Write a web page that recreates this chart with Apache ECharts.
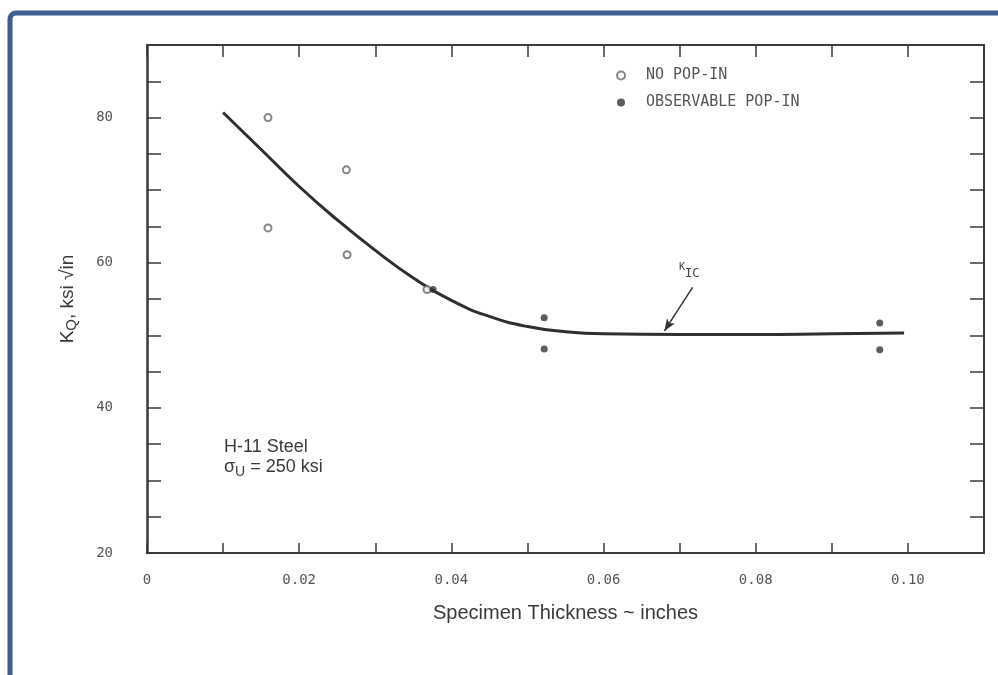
<!DOCTYPE html>
<html>
<head>
<meta charset="utf-8">
<script src="https://cdn.jsdelivr.net/npm/echarts@6/dist/echarts.min.js"></script>
<style>html,body{margin:0;padding:0;background:#fff;}#c{width:998px;height:675px;}</style>
</head>
<body>
<div id="c"></div>
<script>
// Data
const noPopIn = [[0.0159, 80.0], [0.0159, 64.8], [0.0262, 72.8], [0.0263, 61.1], [0.0368, 56.3]];
const popIn = [[0.0376, 56.3], [0.0522, 52.4], [0.0522, 48.1], [0.0963, 51.7], [0.0963, 48.0]];
const kicCurve = [[0.010, 80.7], [0.015, 75.6], [0.020, 70.5], [0.025, 65.9], [0.030, 61.7], [0.035, 57.9], [0.040, 54.8], [0.045, 52.6], [0.050, 51.2], [0.055, 50.5], [0.060, 50.2], [0.070, 50.1], [0.080, 50.1], [0.090, 50.2], [0.0995, 50.3]];
const kicArrow = [[0.0717, 56.6], [0.0680, 50.6]];
const seriesNames = ['NO POP-IN', 'OBSERVABLE POP-IN'];

const chart = echarts.init(document.getElementById('c'));
const axisCol = '#3a3a3a';
const labelCol = '#555';
const mono = '"DejaVu Sans Mono", "Liberation Mono", monospace';
const sans = '"Liberation Sans", Arial, sans-serif';

chart.setOption({
  backgroundColor: '#fff',
  animation: false,
  graphic: [
    { type: 'rect', shape: { x: 10, y: 13, width: 1010, height: 700, r: 6 },
      style: { fill: 'none', stroke: '#3b5f8e', lineWidth: 5 }, z: 10 },
    { type: 'text', left: 224, top: 438,
      style: { text: 'H-11 Steel', font: '18px "Liberation Sans", Arial, sans-serif', fill: '#3a3a3a' } },
    { type: 'text', left: 224, top: 458,
      style: { text: '{a|σ}{s|U}{a| = 250 ksi}', fill: '#3a3a3a',
        rich: { a: { fontSize: 18, fontFamily: sans, fill: '#3a3a3a' },
                s: { fontSize: 14, fontFamily: sans, fill: '#3a3a3a', padding: [10, 0, 0, 0] } } } },
    { type: 'text', left: 679, top: 262,
      style: { text: '{a|K}{s|IC}', fill: '#444',
        rich: { a: { fontSize: 10, fontFamily: mono, fill: '#444' },
                s: { fontSize: 12, fontFamily: mono, fill: '#444', padding: [14, 0, 0, 0] } } } }
  ],
  grid: { left: 147, right: 14, top: 45, bottom: 122 },
  legend: {
    orient: 'vertical', left: 611, top: 63, itemGap: 12,
    itemWidth: 12, itemHeight: 8,
    data: seriesNames,
    textStyle: { fontFamily: mono, fontSize: 15, color: '#555', padding: [0, 0, 0, 14] }
  },
  xAxis: [
    { type: 'value', min: 0, max: 0.11, interval: 0.01, position: 'bottom',
      axisLine: { show: true, onZero: false, lineStyle: { color: axisCol, width: 2 } },
      axisTick: { show: true, inside: true, length: 10, lineStyle: { color: axisCol, width: 1.5 } },
      splitLine: { show: false },
      axisLabel: { margin: 20, fontFamily: mono, fontSize: 14, color: labelCol, showMaxLabel: false,
        formatter: v => { const n = Math.round(v * 100); if (n === 0) return '0'; return (n % 2 === 0 && n <= 10) ? (n / 100).toFixed(2) : ''; } },
      name: 'Specimen Thickness ~ inches', nameLocation: 'middle', nameGap: 50,
      nameTextStyle: { fontFamily: sans, fontSize: 20, color: '#3a3a3a' } },
    { type: 'value', min: 0, max: 0.11, interval: 0.01, position: 'top',
      axisLine: { show: true, onZero: false, lineStyle: { color: axisCol, width: 2 } },
      axisTick: { show: true, inside: true, length: 12, lineStyle: { color: axisCol, width: 1.5 } },
      splitLine: { show: false }, axisLabel: { show: false } }
  ],
  yAxis: [
    { type: 'value', min: 20, max: 90, interval: 5, position: 'left',
      axisLine: { show: true, onZero: false, lineStyle: { color: axisCol, width: 2.5 } },
      axisTick: { show: true, inside: true, length: 14, lineStyle: { color: axisCol, width: 1.5 } },
      splitLine: { show: false },
      axisLabel: { margin: 34, fontFamily: mono, fontSize: 14, color: labelCol,
        formatter: v => (v % 20 === 0 && v < 90) ? String(v) : '' },
      name: '{a|K}{s|Q}{a|, ksi √in}', nameLocation: 'middle', nameGap: 68, nameRotate: 90,
      nameTextStyle: { rich: {
        a: { fontFamily: sans, fontSize: 19, color: '#3a3a3a' },
        s: { fontFamily: sans, fontSize: 15, color: '#3a3a3a', padding: [8, 0, 0, 0] } } } },
    { type: 'value', min: 20, max: 90, interval: 5, position: 'right',
      axisLine: { show: true, onZero: false, lineStyle: { color: axisCol, width: 2 } },
      axisTick: { show: true, inside: true, length: 14, lineStyle: { color: axisCol, width: 1.5 } },
      splitLine: { show: false }, axisLabel: { show: false } }
  ],
  series: [
    { name: 'K_IC', type: 'line', data: kicCurve, smooth: 0.5, showSymbol: false, symbol: 'none',
      lineStyle: { color: '#2f2f2f', width: 3 }, z: 2,
      markLine: { silent: true, symbol: ['none', 'arrow'], symbolSize: [7, 12], label: { show: false },
        lineStyle: { color: '#333', width: 1.5, type: 'solid' },
        data: [[{ coord: kicArrow[0] }, { coord: kicArrow[1] }]] } },
    { name: seriesNames[0], type: 'scatter', data: noPopIn, symbol: 'emptyCircle', symbolSize: 7,
      itemStyle: { color: '#666', borderColor: '#666', borderWidth: 1.8 }, z: 3 },
    { name: seriesNames[1], type: 'scatter', data: popIn, symbol: 'circle', symbolSize: 7,
      itemStyle: { color: '#333' }, z: 3 }
  ]
});
</script>
</body>
</html>
